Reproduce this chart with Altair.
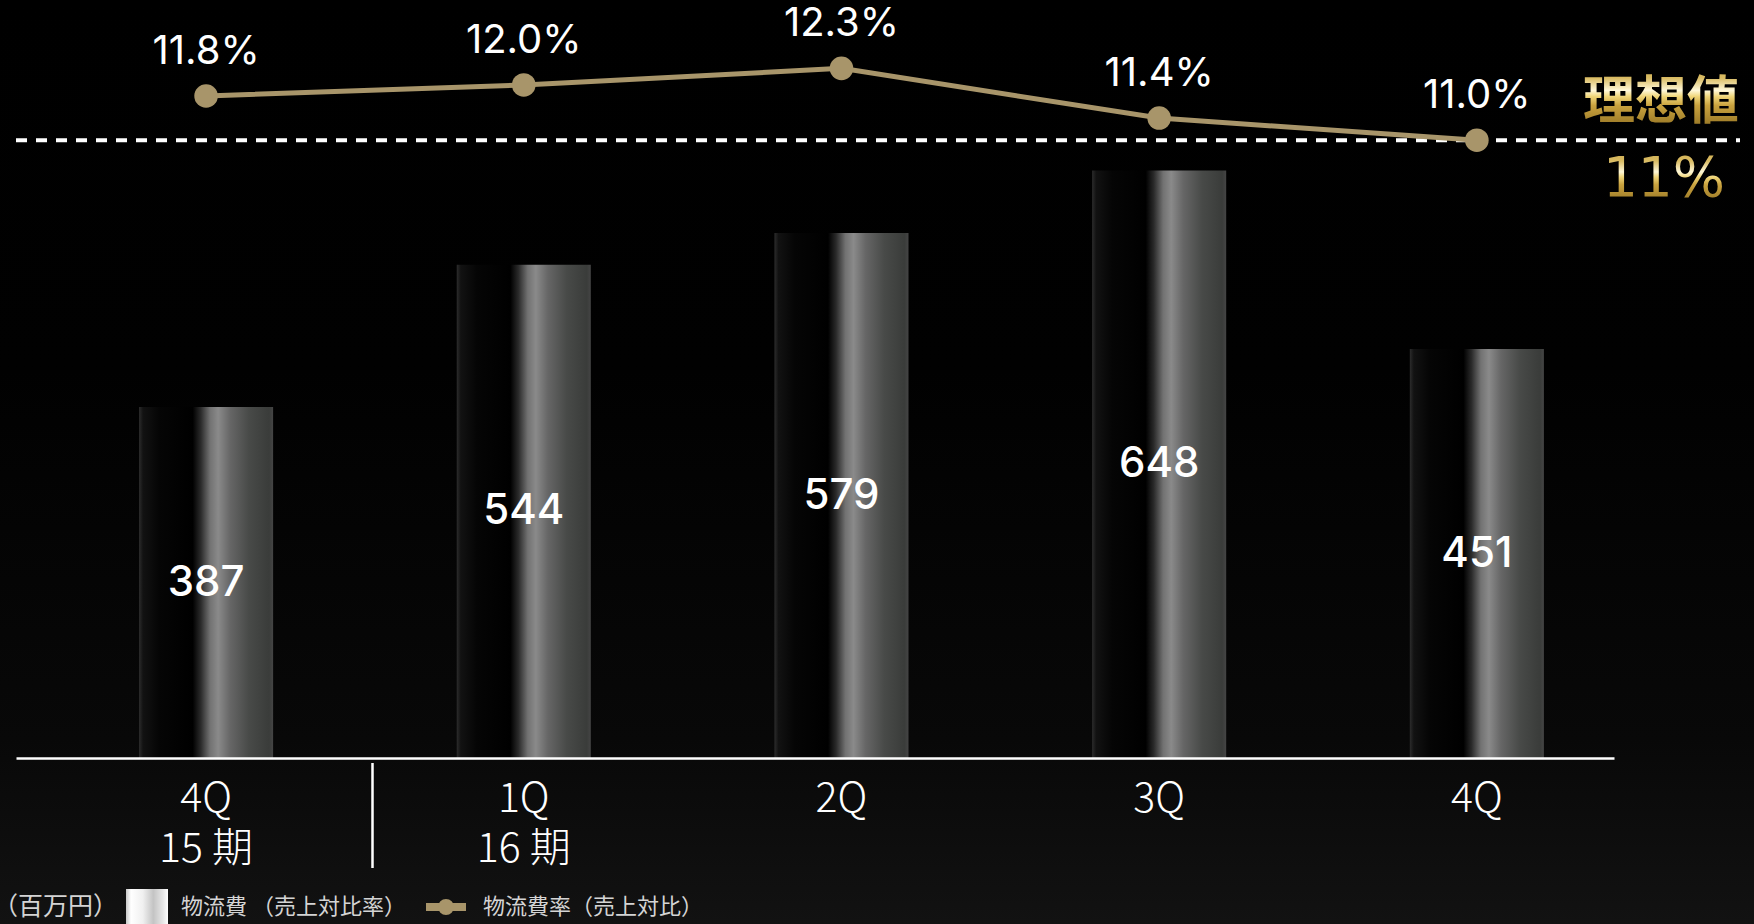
import altair as alt
import pandas as pd

# ---------------- data ----------------
categories = ["15期4Q", "16期1Q", "16期2Q", "16期3Q", "16期4Q"]
tick_line1 = ["4Q", "1Q", "2Q", "3Q", "4Q"]
tick_line2 = ["15 期", "16 期", "", "", ""]
cost_values = [387, 544, 579, 648, 451]          # 物流費 (百万円)
rate_values = [11.8, 12.0, 12.3, 11.4, 11.0]     # 物流費率 (%)
ideal_rate = [11.0]
ideal_label = ["理想値", "11%"]
unit_label = ["（百万円）"]
legend_labels = ["物流費 （売上対比率）", "物流費率（売上対比）"]

df = pd.DataFrame({"cat": categories, "cost": cost_values, "rate": rate_values})

# ---------------- styles ----------------
GOLD = "#a8956a"
W, H = 1598, 758
PAD_L, PAD_T = 16, 0

bar_gradient = {
    "gradient": "linear", "x1": 0, "x2": 1, "y1": 0, "y2": 0,
    "stops": [
        {"offset": 0.0, "color": "#2c2c2c"},
        {"offset": 0.03, "color": "#121212"},
        {"offset": 0.15, "color": "#050505"},
        {"offset": 0.40, "color": "#000000"},
        {"offset": 0.46, "color": "#2a2a2a"},
        {"offset": 0.53, "color": "#727272"},
        {"offset": 0.59, "color": "#8a8a8a"},
        {"offset": 0.68, "color": "#666666"},
        {"offset": 0.82, "color": "#484a48"},
        {"offset": 0.97, "color": "#3a3c3a"},
        {"offset": 1.0, "color": "#454545"},
    ],
}
gold_gradient = {
    "gradient": "linear", "x1": 0, "x2": 0, "y1": 0, "y2": 1,
    "stops": [
        {"offset": 0.0, "color": "#c9a64a"},
        {"offset": 0.25, "color": "#d9bb62"},
        {"offset": 0.42, "color": "#fff8d8"},
        {"offset": 0.50, "color": "#f0d67a"},
        {"offset": 0.62, "color": "#c9a23e"},
        {"offset": 0.85, "color": "#a07e2a"},
        {"offset": 1.0, "color": "#8a6a1e"},
    ],
}
swatch_gradient = {
    "gradient": "linear", "x1": 0, "x2": 1, "y1": 0, "y2": 0,
    "stops": [
        {"offset": 0.0, "color": "#c8c8c8"},
        {"offset": 0.12, "color": "#ffffff"},
        {"offset": 0.40, "color": "#f0f0f0"},
        {"offset": 0.65, "color": "#c4c4c4"},
        {"offset": 0.88, "color": "#e6e6e6"},
        {"offset": 1.0, "color": "#ffffff"},
    ],
}
bg_gradient = {
    "gradient": "linear", "x1": 0, "x2": 0, "y1": 0, "y2": 1,
    "stops": [
        {"offset": 0.0, "color": "#000000"},
        {"offset": 0.40, "color": "#010101"},
        {"offset": 0.80, "color": "#080808"},
        {"offset": 1.0, "color": "#121212"},
    ],
}

# ---------------- x axis ----------------
expr_parts = []
for c, l1, l2 in zip(categories, tick_line1, tick_line2):
    lab = f"['{l1}','{l2}']" if l2 else f"'{l1}'"
    expr_parts.append(f"datum.value == '{c}' ? {lab} : ")
label_expr = "".join(expr_parts) + "''"

X = alt.X(
    "cat:N",
    sort=categories,
    scale=alt.Scale(paddingInner=0.578, paddingOuter=0.304, align=0.637),
    axis=alt.Axis(
        title=None, labelAngle=0, ticks=False, tickSize=0, grid=False,
        domain=True, domainColor="#ffffff", domainWidth=2.5,
        labelExpr=label_expr, labelColor="#ffffff",
        labelFont="Noto Sans CJK JP Light, Noto Sans CJK JP", labelFontWeight=300,
        labelFontSize=41,
        labelLineHeight=50, labelBaseline="top", labelPadding=21,
        labelAlign="center", labelOverlap=False, zindex=2,
    ),
)

cost_scale = alt.Scale(domain=[0, 836])
rate_scale = alt.Scale(domain=[-0.182, 13.537], zero=False)

one = pd.DataFrame({"k": [0]})

# background
bg = alt.Chart(one).mark_rect(color=bg_gradient).encode(
    x=alt.value(-PAD_L), x2=alt.value(1754 - PAD_L),
    y=alt.value(-PAD_T), y2=alt.value(924 - PAD_T),
)

# bars
bars = alt.Chart(df).mark_bar(color=bar_gradient).encode(
    x=X, y=alt.Y("cost:Q", scale=cost_scale, axis=None)
)
bar_text = alt.Chart(df).transform_calculate(mid="datum.cost / 2").mark_text(
    font="Inter", fontWeight=500, fontSize=42, color="#ffffff",
    align="center", baseline="middle",
).encode(
    x=X, y=alt.Y("mid:Q", scale=cost_scale, axis=None), text="cost:Q"
)
bar_layer = alt.layer(bars, bar_text)

# line
base = alt.Chart(df).encode(x=X, y=alt.Y("rate:Q", scale=rate_scale, axis=None))
dashed = alt.Chart(pd.DataFrame({"ideal": ideal_rate})).mark_rule(
    color="#ffffff", strokeWidth=4, strokeDash=[11, 9]
).encode(
    x=alt.value(0), x2=alt.value(1740 - PAD_L),
    y=alt.Y("ideal:Q", scale=rate_scale, axis=None),
)
line = base.mark_line(color=GOLD, strokeWidth=5)
pts = base.mark_circle(color=GOLD, opacity=1, size=556)
rate_text = base.transform_calculate(
    lbl="format(datum.rate, '.1f') + '%'"
).mark_text(
    font="Inter", fontWeight=400, fontSize=40, color="#ffffff",
    align="center", baseline="middle", dy=-44,
).encode(text="lbl:N")
line_layer = alt.layer(dashed, line, pts, rate_text)

# period separator
sep = alt.Chart(one).mark_rule(color="#ffffff", strokeWidth=2.5).encode(
    x=alt.value(372.5 - PAD_L), y=alt.value(763 - PAD_T), y2=alt.value(868 - PAD_T)
)

# ideal annotation
ideal1 = alt.Chart(pd.DataFrame({"t": [ideal_label[0]]})).mark_text(
    font="Noto Sans CJK JP", fontWeight="bold", fontSize=52, color=gold_gradient,
    align="center", baseline="middle",
).encode(x=alt.value(1661 - PAD_L), y=alt.value(103 - PAD_T), text="t:N")
ideal2 = alt.Chart(pd.DataFrame({"t": [ideal_label[1]]})).mark_text(
    font="DejaVu Sans", fontWeight=400, fontSize=55, color=gold_gradient,
    align="center", baseline="middle",
).encode(x=alt.value(1664 - PAD_L), y=alt.value(179 - PAD_T), text="t:N")

# legend
LEG_Y = 907 - PAD_T
unit = alt.Chart(pd.DataFrame({"t": unit_label})).mark_text(
    font="Noto Sans CJK JP", fontSize=25, color="#d4d4d4", align="left", baseline="middle"
).encode(x=alt.value(-7 - PAD_L), y=alt.value(LEG_Y), text="t:N")
swatch = alt.Chart(one).mark_rect(color=swatch_gradient).encode(
    x=alt.value(126 - PAD_L), x2=alt.value(168 - PAD_L),
    y=alt.value(889 - PAD_T), y2=alt.value(924 - PAD_T),
)
leg1 = alt.Chart(pd.DataFrame({"t": [legend_labels[0]]})).mark_text(
    font="Noto Sans CJK JP", fontSize=22, color="#d4d4d4", align="left", baseline="middle"
).encode(x=alt.value(181 - PAD_L), y=alt.value(LEG_Y), text="t:N")
leg_line = alt.Chart(one).mark_rule(color=GOLD, strokeWidth=8).encode(
    x=alt.value(426 - PAD_L), x2=alt.value(466 - PAD_L), y=alt.value(LEG_Y)
)
leg_pt = alt.Chart(one).mark_circle(color=GOLD, opacity=1, size=254).encode(
    x=alt.value(446 - PAD_L), y=alt.value(LEG_Y)
)
leg2 = alt.Chart(pd.DataFrame({"t": [legend_labels[1]]})).mark_text(
    font="Noto Sans CJK JP", fontSize=22, color="#d4d4d4", align="left", baseline="middle"
).encode(x=alt.value(483 - PAD_L), y=alt.value(LEG_Y), text="t:N")

chart = alt.layer(
    bg, bar_layer, line_layer, sep, ideal1, ideal2,
    unit, swatch, leg1, leg_line, leg_pt, leg2,
).resolve_scale(y="independent").properties(
    width=W, height=H,
    padding={"left": PAD_L, "top": PAD_T, "right": 1754 - PAD_L - W, "bottom": 924 - PAD_T - H},
    autosize=alt.AutoSizeParams(type="none"),
    background="#000000",
).configure_view(stroke=None)

chart.save("out.html", embed_options={"renderer": "svg", "actions": False})
